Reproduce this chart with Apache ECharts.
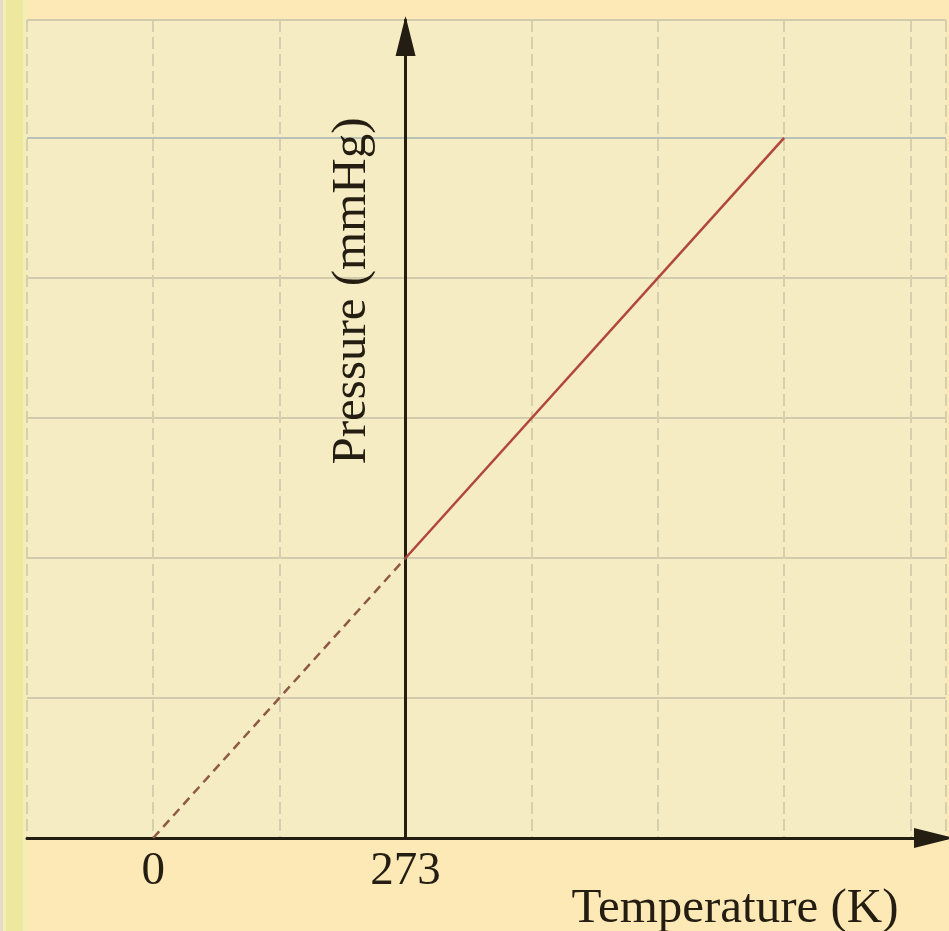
<!DOCTYPE html>
<html>
<head>
<meta charset="utf-8">
<title>Pressure vs Temperature</title>
<script src="https://cdn.jsdelivr.net/npm/echarts@6/dist/echarts.min.js"></script>
<style>
  html, body { margin: 0; padding: 0; background: #fde9b6; }
  #chart { width: 949px; height: 931px; }
</style>
</head>
<body>
<div id="chart"></div>
<script>
// Gas pressure at constant volume against absolute temperature
const measuredT = [273, 682.5];          // K, measured range
const measuredP = [760, 1900];           // mmHg
const extrapT = [0, 273];                // K, extrapolated back to absolute zero
const extrapP = [0, 760];                // mmHg
const labelledTicks = [0, 273];          // temperature ticks that carry a label

const tStep = 136.5, tMin = -136.5, tMax = 857.6;
const pStep = 380, pMin = 0, pMax = 2220;
const axisT = 273;                       // where the pressure axis is drawn

const toPairs = (xs, ys) => xs.map((x, i) => [x, ys[i]]);
const serif = '"Liberation Serif", "DejaVu Serif", serif';
const ink = '#231d12';

const chart = echarts.init(document.getElementById('chart'), null, { renderer: 'canvas' });

chart.setOption({
  backgroundColor: '#fde9b6',
  animation: false,
  grid: {
    left: 27, right: 0, top: 20, bottom: 93,
    show: true, backgroundColor: '#f6ecc4', borderWidth: 0
  },
  xAxis: [{
    type: 'value', min: tMin, max: tMax, interval: tStep,
    axisLine: {
      show: true, onZero: true,
      lineStyle: { color: ink, width: 3 },
      symbol: ['none', 'triangle'], symbolSize: [20, 40], symbolOffset: [0, -12]
    },
    axisTick: { show: false },
    axisLabel: {
      margin: 10, color: ink, fontFamily: serif, fontSize: 47,
      formatter: v => labelledTicks.includes(Math.round(v * 10) / 10) ? String(Math.round(v)) : ''
    },
    splitLine: { show: true, lineStyle: { color: '#d6cfae', width: 2, type: [12, 5] } }
  }, {
    // frame shifted so that its zero sits at 273 K; carries the pressure axis
    type: 'value', show: false, min: tMin - axisT, max: tMax - axisT,
    splitLine: { show: false }
  }],
  yAxis: {
    type: 'value', min: pMin, max: pMax, interval: pStep,
    axisLine: {
      show: true, onZero: true, onZeroAxisIndex: 1,
      lineStyle: { color: ink, width: 3 },
      symbol: ['none', 'triangle'], symbolSize: [20, 40], symbolOffset: [0, -16]
    },
    axisTick: { show: false },
    axisLabel: { show: false },
    splitLine: {
      show: true,
      lineStyle: { color: ['#d2cbab', '#d2cbab', '#d2cbab', '#d2cbab', '#d2cbab', '#b9c2b8', '#d2cbab'], width: 2 }
    }
  },
  series: [{
    name: 'extrapolated',
    type: 'line', xAxisIndex: 0,
    data: toPairs(extrapT, extrapP),
    showSymbol: false, z: 3,
    lineStyle: { color: '#8e5a45', width: 2.5, type: [9, 6] }
  }, {
    name: 'measured',
    type: 'line', xAxisIndex: 0,
    data: toPairs(measuredT, measuredP),
    showSymbol: false, z: 3,
    lineStyle: { color: '#b0473a', width: 2.5 }
  }],
  graphic: [
    { type: 'rect', left: 0, top: 0, shape: { width: 27, height: 931 }, style: { fill: '#f3eeb6' }, silent: true, z: -1 },
    { type: 'rect', left: 0, top: 0, shape: { width: 3, height: 931 }, style: { fill: '#e6dac8' }, silent: true, z: -1 },
    { type: 'rect', left: 6, top: 0, shape: { width: 17, height: 931 }, style: { fill: '#eee89e' }, silent: true, z: -1 },
    {
      type: 'text', x: 352, y: 291, rotation: Math.PI / 2,
      style: { text: 'Pressure (mmHg)', font: '49px ' + serif, fill: ink, align: 'center', verticalAlign: 'middle' },
      silent: true, z: 10
    },
    {
      type: 'text', x: 735, y: 909,
      style: { text: 'Temperature (K)', font: '49px ' + serif, fill: ink, align: 'center', verticalAlign: 'middle' },
      silent: true, z: 10
    }
  ]
});
</script>
</body>
</html>
